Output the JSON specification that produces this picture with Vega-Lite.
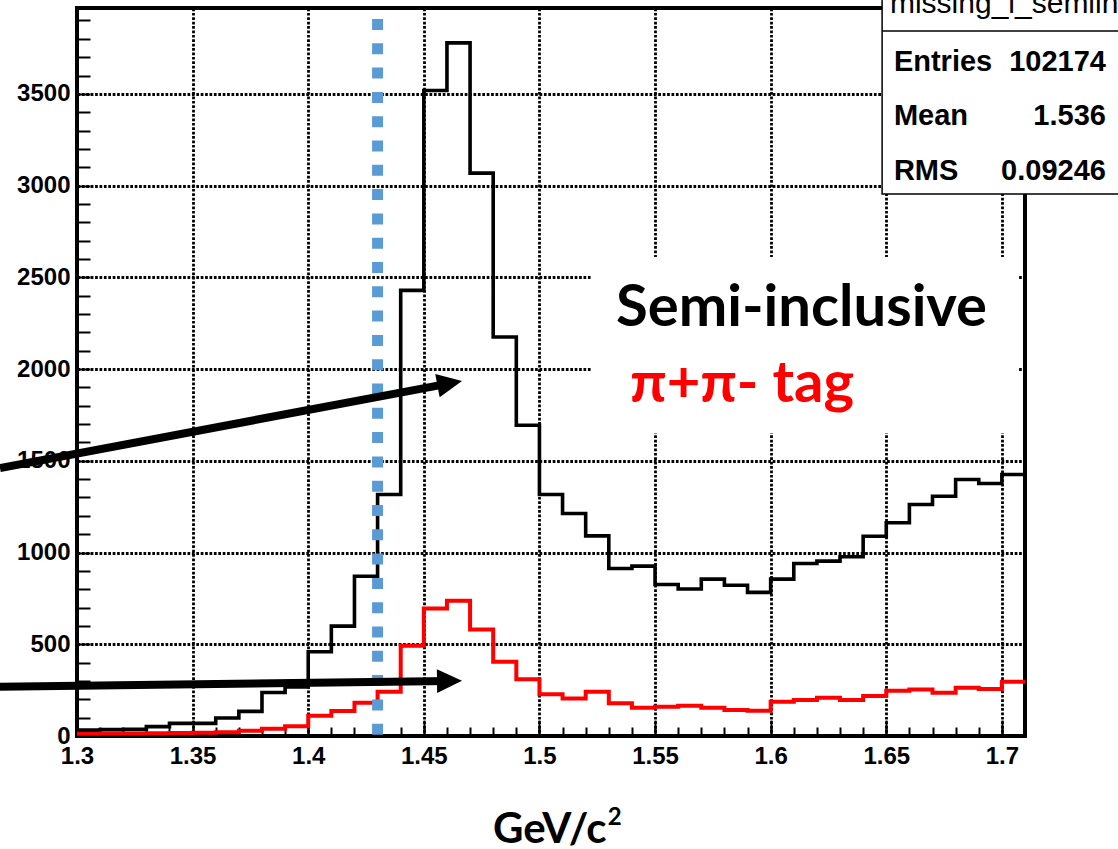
{
  "$schema": "https://vega.github.io/schema/vega-lite/v6.json",
  "width": 948,
  "height": 728,
  "autosize": {"type": "none"},
  "padding": {"left": 77, "top": 8, "right": 93, "bottom": 113},
  "background": "white",
  "config": {
    "view": {"stroke": "black", "strokeWidth": 4},
    "axis": {
      "labelFont": "Liberation Sans",
      "labelFontSize": 24,
      "labelFontWeight": "bold",
      "labelColor": "black",
      "labelFlush": false,
      "labelOverlap": false,
      "labelBound": false,
      "gridColor": "black",
      "gridOpacity": 1,
      "gridDash": [2.7, 1.7],
      "gridWidth": 2.8,
      "tickColor": "black",
      "tickWidth": 2,
      "domain": false
    }
  },
  "datasets": {
    "semiInclusive": [
      {"m": 1.30, "n": 32}, {"m": 1.31, "n": 35}, {"m": 1.32, "n": 36}, {"m": 1.33, "n": 51},
      {"m": 1.34, "n": 69}, {"m": 1.35, "n": 69}, {"m": 1.36, "n": 98}, {"m": 1.37, "n": 134},
      {"m": 1.38, "n": 237}, {"m": 1.39, "n": 267}, {"m": 1.40, "n": 459}, {"m": 1.41, "n": 599},
      {"m": 1.42, "n": 871}, {"m": 1.43, "n": 1316}, {"m": 1.44, "n": 2429}, {"m": 1.45, "n": 3518},
      {"m": 1.46, "n": 3778}, {"m": 1.47, "n": 3068}, {"m": 1.48, "n": 2175}, {"m": 1.49, "n": 1694},
      {"m": 1.50, "n": 1316}, {"m": 1.51, "n": 1213}, {"m": 1.52, "n": 1091}, {"m": 1.53, "n": 913},
      {"m": 1.54, "n": 926}, {"m": 1.55, "n": 826}, {"m": 1.56, "n": 801}, {"m": 1.57, "n": 855},
      {"m": 1.58, "n": 822}, {"m": 1.59, "n": 783}, {"m": 1.60, "n": 855}, {"m": 1.61, "n": 940},
      {"m": 1.62, "n": 953}, {"m": 1.63, "n": 977}, {"m": 1.64, "n": 1089}, {"m": 1.65, "n": 1162},
      {"m": 1.66, "n": 1262}, {"m": 1.67, "n": 1307}, {"m": 1.68, "n": 1398}, {"m": 1.69, "n": 1376},
      {"m": 1.70, "n": 1425}, {"m": 1.71, "n": 1425}
    ],
    "pipiTag": [
      {"m": 1.30, "n": 12}, {"m": 1.31, "n": 13}, {"m": 1.32, "n": 14}, {"m": 1.33, "n": 15},
      {"m": 1.34, "n": 16}, {"m": 1.35, "n": 18}, {"m": 1.36, "n": 20}, {"m": 1.37, "n": 29},
      {"m": 1.38, "n": 39}, {"m": 1.39, "n": 53}, {"m": 1.40, "n": 110}, {"m": 1.41, "n": 136},
      {"m": 1.42, "n": 181}, {"m": 1.43, "n": 241}, {"m": 1.44, "n": 492}, {"m": 1.45, "n": 695},
      {"m": 1.46, "n": 737}, {"m": 1.47, "n": 581}, {"m": 1.48, "n": 405}, {"m": 1.49, "n": 310},
      {"m": 1.50, "n": 227}, {"m": 1.51, "n": 205}, {"m": 1.52, "n": 241}, {"m": 1.53, "n": 178},
      {"m": 1.54, "n": 154}, {"m": 1.55, "n": 160}, {"m": 1.56, "n": 165}, {"m": 1.57, "n": 154},
      {"m": 1.58, "n": 142}, {"m": 1.59, "n": 138}, {"m": 1.60, "n": 187}, {"m": 1.61, "n": 196},
      {"m": 1.62, "n": 209}, {"m": 1.63, "n": 196}, {"m": 1.64, "n": 218}, {"m": 1.65, "n": 247},
      {"m": 1.66, "n": 254}, {"m": 1.67, "n": 236}, {"m": 1.68, "n": 263}, {"m": 1.69, "n": 256},
      {"m": 1.70, "n": 296}, {"m": 1.71, "n": 296}
    ]
  },
  "resolve": {"axis": {"x": "independent", "y": "independent"}},
  "layer": [
    {
      "data": {"name": "semiInclusive"},
      "mark": {"type": "line", "interpolate": "step-after", "color": "black", "strokeWidth": 3.6, "strokeJoin": "miter"},
      "encoding": {
        "x": {
          "field": "m", "type": "quantitative",
          "scale": {"domain": [1.3, 1.71], "nice": false, "zero": false},
          "axis": {
            "orient": "bottom",
            "values": [1.3, 1.35, 1.4, 1.45, 1.5, 1.55, 1.6, 1.65, 1.7],
            "format": "~g",
            "ticks": false,
            "grid": true,
            "labelPadding": 8,
            "title": null
          }
        },
        "y": {
          "field": "n", "type": "quantitative",
          "scale": {"domain": [0, 3968], "nice": false},
          "axis": {
            "orient": "left",
            "values": [0, 500, 1000, 1500, 2000, 2500, 3000, 3500],
            "format": "d",
            "ticks": false,
            "grid": true,
            "labelPadding": 7,
            "title": null
          }
        }
      }
    },
    {
      "data": {"name": "pipiTag"},
      "mark": {"type": "line", "interpolate": "step-after", "color": "#ff0000", "strokeWidth": 4, "strokeJoin": "miter"},
      "encoding": {
        "x": {
          "field": "m", "type": "quantitative",
          "scale": {"domain": [1.3, 1.71], "nice": false, "zero": false},
          "axis": {
            "orient": "bottom",
            "values": [1.3, 1.31, 1.32, 1.33, 1.34, 1.35, 1.36, 1.37, 1.38, 1.39, 1.4, 1.41, 1.42, 1.43, 1.44, 1.45, 1.46, 1.47, 1.48, 1.49, 1.5, 1.51, 1.52, 1.53, 1.54, 1.55, 1.56, 1.57, 1.58, 1.59, 1.6, 1.61, 1.62, 1.63, 1.64, 1.65, 1.66, 1.67, 1.68, 1.69, 1.7],
            "labels": false, "grid": false, "ticks": true, "tickSize": -9, "title": null
          }
        },
        "y": {
          "field": "n", "type": "quantitative",
          "scale": {"domain": [0, 3968], "nice": false},
          "axis": {
            "orient": "left",
            "values": [100, 200, 300, 400, 500, 600, 700, 800, 900, 1000, 1100, 1200, 1300, 1400, 1500, 1600, 1700, 1800, 1900, 2000, 2100, 2200, 2300, 2400, 2500, 2600, 2700, 2800, 2900, 3000, 3100, 3200, 3300, 3400, 3500, 3600, 3700, 3800, 3900],
            "labels": false, "grid": false, "ticks": true, "tickSize": -13, "title": null
          }
        }
      }
    },
    {
      "data": {"values": [{}]},
      "mark": {"type": "rule", "color": "#5b9bd5", "strokeWidth": 11, "strokeDash": [11, 13.3], "strokeCap": "butt"},
      "encoding": {
        "x": {
          "datum": 1.43, "type": "quantitative",
          "scale": {"domain": [1.3, 1.71], "nice": false, "zero": false},
          "axis": {
            "orient": "bottom",
            "values": [1.35, 1.4, 1.45, 1.5, 1.55, 1.6, 1.65, 1.7],
            "labels": false, "grid": false, "ticks": true, "tickSize": -16, "title": null
          }
        },
        "y": {"datum": 3908, "type": "quantitative", "scale": {"domain": [0, 3968], "nice": false}, "axis": null},
        "y2": {"datum": 0}
      }
    },
    {
      "data": {"values": [{}]},
      "mark": {"type": "rect", "fill": "white"},
      "encoding": {
        "x": {"datum": 1.5227, "type": "quantitative", "scale": {"domain": [1.3, 1.71], "nice": false, "zero": false}, "axis": null},
        "x2": {"datum": 1.7074},
        "y": {"datum": 2611, "type": "quantitative", "scale": {"domain": [0, 3968], "nice": false}, "axis": null},
        "y2": {"datum": 1651}
      }
    },
    {
      "data": {"values": [{"label": "Semi-inclusive"}]},
      "mark": {"type": "text", "font": "Lato", "fontWeight": "bold", "fontSize": 58, "align": "left", "baseline": "alphabetic", "color": "black"},
      "encoding": {
        "text": {"field": "label"},
        "x": {"datum": 1.5331, "type": "quantitative", "scale": {"domain": [1.3, 1.71], "nice": false, "zero": false}, "axis": null},
        "y": {"datum": 2235, "type": "quantitative", "scale": {"domain": [0, 3968], "nice": false}, "axis": null}
      }
    },
    {
      "data": {"values": [{"label": "π+π- tag"}]},
      "mark": {"type": "text", "font": "Lato", "fontWeight": "bold", "fontSize": 58, "align": "left", "baseline": "alphabetic", "color": "#ff0000"},
      "encoding": {
        "text": {"field": "label"},
        "x": {"datum": 1.5392, "type": "quantitative", "scale": {"domain": [1.3, 1.71], "nice": false, "zero": false}, "axis": null},
        "y": {"datum": 1820, "type": "quantitative", "scale": {"domain": [0, 3968], "nice": false}, "axis": null}
      }
    },
    {
      "data": {"values": [{"label": "GeV/c"}]},
      "mark": {"type": "text", "font": "Lato", "fontWeight": "bold", "fontSize": 42, "align": "right", "baseline": "alphabetic", "color": "black"},
      "encoding": {
        "text": {"field": "label"},
        "x": {"datum": 1.529, "type": "quantitative", "scale": {"domain": [1.3, 1.71], "nice": false, "zero": false}, "axis": null},
        "y": {"datum": -583, "type": "quantitative", "scale": {"domain": [0, 3968], "nice": false}, "axis": null}
      }
    },
    {
      "data": {"values": [{"label": "2"}]},
      "mark": {"type": "text", "font": "Lato", "fontWeight": "bold", "fontSize": 24, "align": "left", "baseline": "alphabetic", "color": "black"},
      "encoding": {
        "text": {"field": "label"},
        "x": {"datum": 1.5295, "type": "quantitative", "scale": {"domain": [1.3, 1.71], "nice": false, "zero": false}, "axis": null},
        "y": {"datum": -485, "type": "quantitative", "scale": {"domain": [0, 3968], "nice": false}, "axis": null}
      }
    },
    {
      "data": {"values": [{}]},
      "mark": {"type": "rule", "color": "black", "strokeWidth": 8, "strokeCap": "butt"},
      "encoding": {
        "x": {"datum": 1.2667, "type": "quantitative", "scale": {"domain": [1.3, 1.71], "nice": false, "zero": false}, "axis": null},
        "x2": {"datum": 1.4612},
        "y": {"datum": 1461, "type": "quantitative", "scale": {"domain": [0, 3968], "nice": false}, "axis": null},
        "y2": {"datum": 1922}
      }
    },
    {
      "data": {"values": [{}]},
      "mark": {"type": "point", "shape": "M1,0L-1,-0.95L-1,0.95Z", "size": 625, "filled": true, "color": "black", "opacity": 1, "angle": -10.7},
      "encoding": {
        "x": {"datum": 1.4612, "type": "quantitative", "scale": {"domain": [1.3, 1.71], "nice": false, "zero": false}, "axis": null},
        "y": {"datum": 1922, "type": "quantitative", "scale": {"domain": [0, 3968], "nice": false}, "axis": null}
      }
    },
    {
      "data": {"values": [{}]},
      "mark": {"type": "rule", "color": "black", "strokeWidth": 8, "strokeCap": "butt"},
      "encoding": {
        "x": {"datum": 1.2667, "type": "quantitative", "scale": {"domain": [1.3, 1.71], "nice": false, "zero": false}, "axis": null},
        "x2": {"datum": 1.4611},
        "y": {"datum": 269, "type": "quantitative", "scale": {"domain": [0, 3968], "nice": false}, "axis": null},
        "y2": {"datum": 300}
      }
    },
    {
      "data": {"values": [{}]},
      "mark": {"type": "point", "shape": "M1,0L-1,-0.95L-1,0.95Z", "size": 625, "filled": true, "color": "black", "opacity": 1, "angle": -0.74},
      "encoding": {
        "x": {"datum": 1.4611, "type": "quantitative", "scale": {"domain": [1.3, 1.71], "nice": false, "zero": false}, "axis": null},
        "y": {"datum": 300, "type": "quantitative", "scale": {"domain": [0, 3968], "nice": false}, "axis": null}
      }
    },
    {
      "data": {"values": [{}]},
      "mark": {"type": "rect", "fill": "white", "stroke": "black", "strokeWidth": 1.5},
      "encoding": {
        "x": {"datum": 1.6482, "type": "quantitative", "scale": {"domain": [1.3, 1.71], "nice": false, "zero": false}, "axis": null},
        "x2": {"datum": 1.7515},
        "y": {"datum": 4040, "type": "quantitative", "scale": {"domain": [0, 3968], "nice": false}, "axis": null},
        "y2": {"datum": 2954}
      }
    },
    {
      "data": {"values": [{}]},
      "mark": {"type": "rule", "color": "black", "strokeWidth": 1.5},
      "encoding": {
        "x": {"datum": 1.6482, "type": "quantitative", "scale": {"domain": [1.3, 1.71], "nice": false, "zero": false}, "axis": null},
        "x2": {"datum": 1.7515},
        "y": {"datum": 3843, "type": "quantitative", "scale": {"domain": [0, 3968], "nice": false}, "axis": null}
      }
    },
    {
      "data": {"values": [{"label": "missing_l_semiin"}]},
      "mark": {"type": "text", "font": "Liberation Sans", "fontSize": 30, "align": "left", "baseline": "alphabetic", "color": "black"},
      "encoding": {
        "text": {"field": "label"},
        "x": {"datum": 1.6516, "type": "quantitative", "scale": {"domain": [1.3, 1.71], "nice": false, "zero": false}, "axis": null},
        "y": {"datum": 3941, "type": "quantitative", "scale": {"domain": [0, 3968], "nice": false}, "axis": null}
      }
    },
    {
      "data": {"values": [{}]},
      "mark": {"type": "text", "text": ["Entries", "Mean", "RMS"], "lineHeight": 54.7, "font": "Liberation Sans", "fontWeight": "bold", "fontSize": 29, "align": "left", "baseline": "alphabetic", "color": "black"},
      "encoding": {
        "x": {"datum": 1.6533, "type": "quantitative", "scale": {"domain": [1.3, 1.71], "nice": false, "zero": false}, "axis": null},
        "y": {"datum": 3626, "type": "quantitative", "scale": {"domain": [0, 3968], "nice": false}, "axis": null}
      }
    },
    {
      "data": {"values": [{}]},
      "mark": {"type": "text", "text": ["102174", "1.536", "0.09246"], "lineHeight": 54.7, "font": "Liberation Sans", "fontWeight": "bold", "fontSize": 29, "align": "right", "baseline": "alphabetic", "color": "black"},
      "encoding": {
        "x": {"datum": 1.745, "type": "quantitative", "scale": {"domain": [1.3, 1.71], "nice": false, "zero": false}, "axis": null},
        "y": {"datum": 3626, "type": "quantitative", "scale": {"domain": [0, 3968], "nice": false}, "axis": null}
      }
    }
  ]
}
